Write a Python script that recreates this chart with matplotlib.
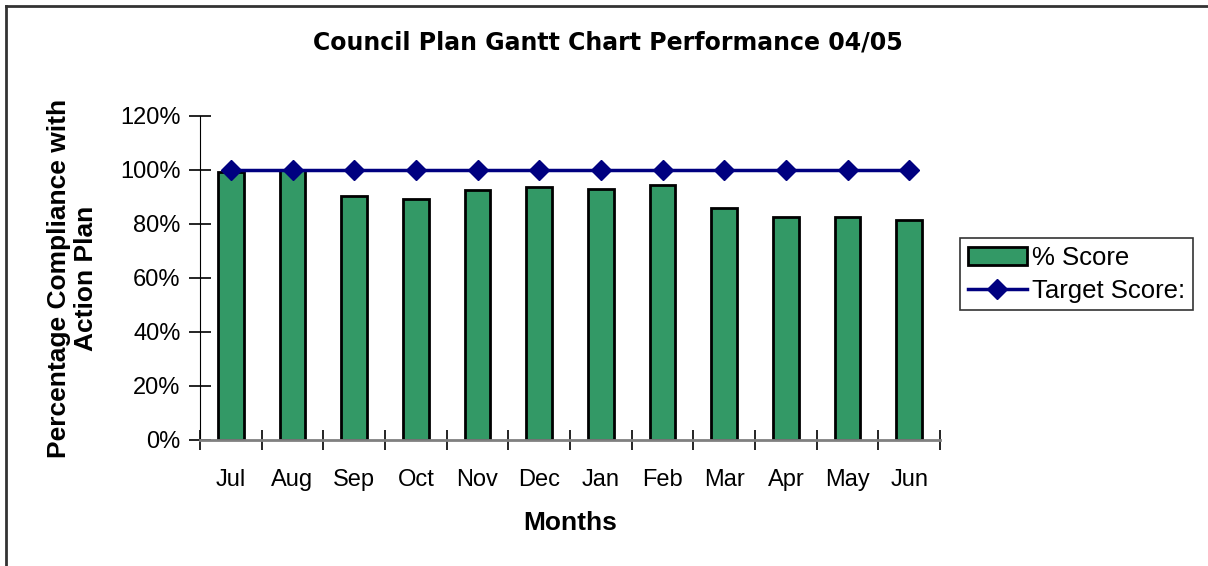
import matplotlib.pyplot as plt
from matplotlib.lines import Line2D

months = ['Jul', 'Aug', 'Sep', 'Oct', 'Nov', 'Dec', 'Jan', 'Feb', 'Mar', 'Apr', 'May', 'Jun']
score = [99.4, 100.0, 90.2, 89.1, 92.5, 93.8, 92.8, 94.3, 85.8, 82.7, 82.7, 81.4]
target = [100] * 12

plt.rcParams['font.family'] = ['Liberation Sans', 'DejaVu Sans']

fig = plt.figure(figsize=(12.08, 5.66), dpi=100)
ax = fig.add_axes([200 / 1208, 1 - 440 / 566, 740 / 1208, 324 / 566])

x = list(range(len(months)))
bars = ax.bar(x, score, width=0.42, color='#339966', edgecolor='black', linewidth=2,
              label='% Score', zorder=2)
line, = ax.plot(x, target, color='#000080', linewidth=2.5, marker='D', markersize=10,
                label='Target Score:', zorder=3, clip_on=False)

ax.set_xlim(-0.5, len(months) - 0.5)
ax.set_ylim(0, 120)
ax.set_yticks(range(0, 121, 20))
ax.set_yticklabels([f'{v}%' for v in range(0, 121, 20)], fontsize=17)
ax.set_xticks([i - 0.5 for i in range(len(months) + 1)])
ax.set_xticklabels([])
ax.set_xticks(x, minor=True)
ax.set_xticklabels(months, minor=True, fontsize=17)
ax.tick_params(axis='x', which='minor', length=0, pad=21)
ax.tick_params(axis='x', which='major', direction='inout', length=14, width=1.2)
ax.tick_params(axis='y', direction='inout', length=16, width=1.2, pad=6)

for s in ['top', 'right']:
    ax.spines[s].set_visible(False)
ax.spines['left'].set_color('black')
ax.spines['bottom'].set_color('#808080')
ax.spines['bottom'].set_linewidth(2)

ax.set_xlabel('Months', fontsize=19, fontweight='bold', labelpad=14)
ax.set_ylabel('Percentage Compliance with\nAction Plan', fontsize=19,
              fontweight='bold', labelpad=16, linespacing=1.15)
fig.text(608 / 1208, 1 - 42 / 566, 'Council Plan Gantt Chart Performance 04/05',
         ha='center', va='center', fontsize=17, fontweight='bold',
         family=['DejaVu Sans'])

leg = ax.legend([bars, line], ['% Score', 'Target Score:'], loc='upper left',
                bbox_to_anchor=(960 / 1208, 1 - 238 / 566),
                bbox_transform=fig.transFigure, fontsize=18.5, frameon=True,
                fancybox=False, edgecolor='black', borderpad=0.3,
                handlelength=2.3, handletextpad=0.2, labelspacing=0.35,
                borderaxespad=0)
leg.get_frame().set_linewidth(1.2)

# outer chart border (top and left only visible in the crop)
fig.add_artist(Line2D([6 / 1208, 6 / 1208], [0, 1 - 6 / 566], transform=fig.transFigure,
                      color='#333333', linewidth=2))
fig.add_artist(Line2D([6 / 1208, 1], [1 - 6 / 566, 1 - 6 / 566], transform=fig.transFigure,
                      color='#333333', linewidth=2))

fig.savefig('out.png', dpi=100)
